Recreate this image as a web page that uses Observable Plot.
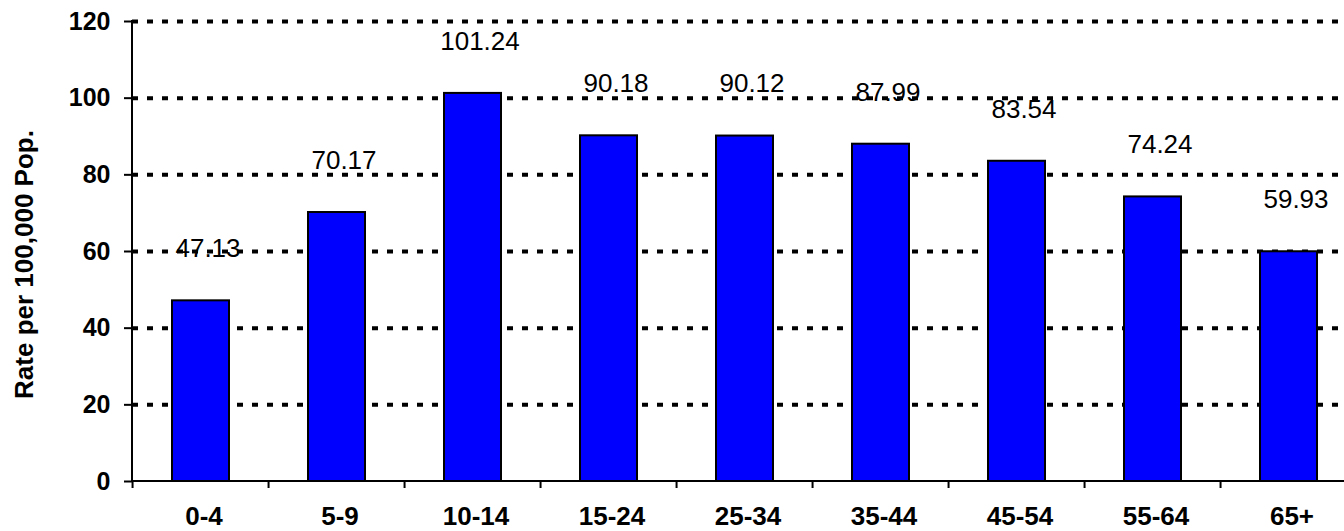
<!DOCTYPE html>
<html>
<head>
<meta charset="utf-8">
<script src="https://cdn.jsdelivr.net/npm/d3@7"></script>
<script src="https://cdn.jsdelivr.net/npm/@observablehq/plot@0.6"></script>
<style>
  html, body { margin: 0; padding: 0; background: #fff; overflow: hidden; }
  #chart { width: 1344px; height: 531px; overflow: hidden; }
  #chart svg { display: block; max-width: none !important; height: 531px !important; }
</style>
</head>
<body>
<div id="chart"></div>
<script>
const ageGroups = ["0-4", "5-9", "10-14", "15-24", "25-34", "35-44", "45-54", "55-64", "65+"];
const rates = [47.13, 70.17, 101.24, 90.18, 90.12, 87.99, 83.54, 74.24, 59.93];
const yTicks = [0, 20, 40, 60, 80, 100, 120];
const gridValues = [20, 40, 60, 80, 100, 120];
const yTitle = "Rate per 100,000 Pop.";

const data = ageGroups.map((g, i) => ({group: g, rate: rates[i], label: rates[i].toFixed(2)}));

const font = "'Liberation Sans', Arial, Helvetica, sans-serif";
const PAD_INNER = 0.58;

// axis lines and tick marks between categories
function axisFrame(index, scales, values, dimensions) {
  const {x, y} = scales;
  const {width, marginLeft, marginRight} = dimensions;
  const ns = "http://www.w3.org/2000/svg";
  const g = document.createElementNS(ns, "g");
  const step = x(ageGroups[1]) - x(ageGroups[0]);
  const y0 = y(0), yTop = y(d3.max(yTicks));
  const line = (x1, y1, x2, y2) => {
    const l = document.createElementNS(ns, "line");
    l.setAttribute("x1", x1); l.setAttribute("y1", y1);
    l.setAttribute("x2", x2); l.setAttribute("y2", y2);
    l.setAttribute("stroke", "#000"); l.setAttribute("stroke-width", 2);
    g.appendChild(l);
  };
  // y axis line
  line(marginLeft, yTop - 1, marginLeft, y0 + 1);
  // x axis line
  line(marginLeft, y0, width - marginRight, y0);
  // boundary ticks
  const bounds = ageGroups.map(c => x(c) - step * PAD_INNER / 2);
  bounds.push(bounds[bounds.length - 1] + step);
  for (const b of bounds) line(b, y0, b, y0 + 7);
  return g;
}

const chart = Plot.plot({
  width: 1358,
  height: 531,
  marginTop: 21,
  marginBottom: 50,
  marginLeft: 132,
  marginRight: 0,
  style: {fontFamily: font, background: "#fff", color: "#000", maxWidth: "none"},
  x: {domain: ageGroups, paddingInner: PAD_INNER, paddingOuter: PAD_INNER / 2, align: 0.5},
  y: {domain: [0, 120]},
  marks: [
    Plot.ruleY(gridValues, {stroke: "#000", strokeWidth: 4, strokeDasharray: "6 9"}),
    Plot.barY(data, {x: "group", y: "rate", fill: "#0000FF", stroke: "#000", strokeWidth: 2}),
    Plot.text(data, {x: "group", y: "rate", text: "label", dy: -52, dx: 7, fontSize: 26, fill: "#000", lineAnchor: "middle"}),
    Plot.axisY({ticks: yTicks, tickSize: 8, tickPadding: 14, strokeWidth: 2, fontSize: 25, fontWeight: "bold", label: null, tickFormat: d => String(d)}),
    Plot.axisX({tickSize: 0, tickPadding: 25, fontSize: 26, fontWeight: "bold", label: null, dx: 3}),
    Plot.text([yTitle], {frameAnchor: "left", text: d => d, rotate: -90, textAnchor: "middle", lineAnchor: "middle", dx: -108, dy: 13, fontSize: 26, fontWeight: "bold", fill: "#000"}),
    axisFrame
  ]
});

document.getElementById("chart").appendChild(chart);
</script>
</body>
</html>
